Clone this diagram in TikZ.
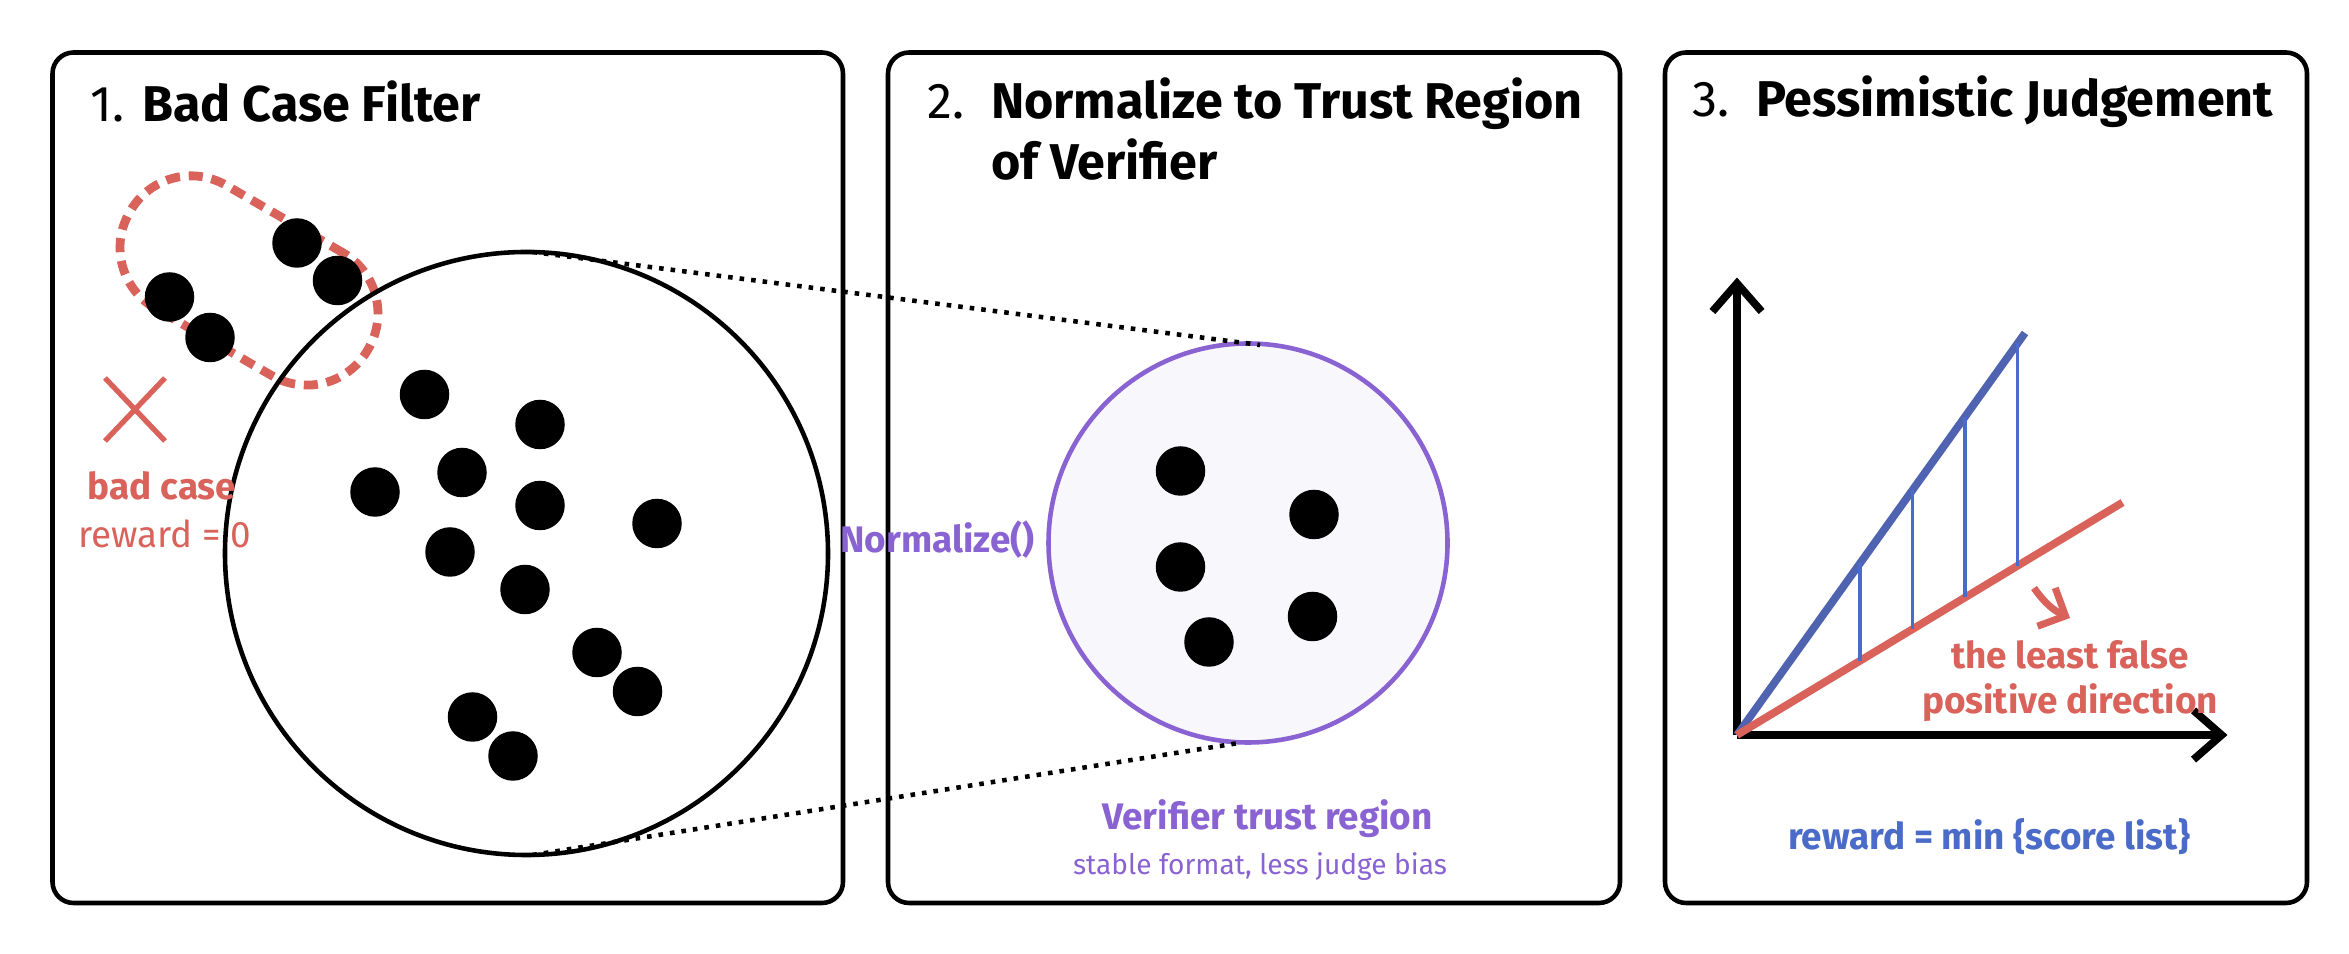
\documentclass[tikz,border=0pt]{standalone}
\usepackage{fontspec}
\setmainfont{Fira Sans}
\usetikzlibrary{arrows.meta}
\definecolor{cred}{HTML}{D9625B}
\definecolor{cpur}{HTML}{8A63D2}
\definecolor{cblue}{HTML}{4A6CC8}
\definecolor{cline}{HTML}{4F63B0}
\definecolor{clav}{HTML}{F8F7FC}
\begin{document}
\begin{tikzpicture}[x=0.015cm,y=-0.015cm,
  panel/.style={draw=black,line width=1.3pt,rounded corners=6pt},
  dot/.style={circle,fill=black,minimum size=0.495cm,inner sep=0pt},
  title/.style={anchor=west,font=\fontsize{14.3}{17.5}\selectfont},
  lab/.style={font=\fontsize{10.5}{13}\selectfont}]
\useasboundingbox (0,0) rectangle (1566,636);
\fill[white] (0,0) rectangle (1566,636);
\draw[panel] (35,35) rectangle (562,602);
\draw[panel] (592,35) rectangle (1080,602);
\draw[panel] (1110,35) rectangle (1538,602);
\node[title] (t1) at (52,68) {1. \textbf{Bad Case Filter}};
\node[title,align=left] (t2) at (610,86) {2.\ \ \textbf{Normalize to Trust Region}\\\phantom{2.\ \ }\textbf{of Verifier}};
\node[title] (t3) at (1120,68) {3.\ \ \textbf{Pessimistic Judgement}};
% panel 1
\node[draw=cred,line width=2.5pt,dash pattern=on 4pt off 2.5pt,rounded corners=0.7cm,minimum width=2.75cm,minimum height=1.42cm,rotate=-30] (blob) at (166,187) {};
\node[circle,draw,line width=1.3pt,minimum size=6.03cm,inner sep=0pt] (big) at (351,369) {};
\foreach \p/\n in {{198,162}/a1,{113,198}/a2,{140,225}/a3,{225,187}/a4,{283,263}/b1,{360,283}/b2,{308,315}/b3,{250,328}/b4,{360,337}/b5,{438,349}/b6,{300,368}/b7,{350,393}/b8,{398,435}/b9,{425,461}/b10,{315,478}/b11,{342,504}/b12}
  \node[dot] (\n) at (\p) {};
\coordinate (x1) at (70,252); \coordinate (x2) at (110,294);
\coordinate (x3) at (110,252); \coordinate (x4) at (70,294);
\draw[cred,line width=1.5pt] (x1)--(x2) (x3)--(x4);
\node[lab,cred] (bc) at (108,324) {\textbf{bad case}};
\node[lab,cred] (r0) at (110,356) {reward = 0};
% panel 2
\node[circle,draw=cpur,fill=clav,line width=1.3pt,minimum size=3.99cm,inner sep=0pt] (tr) at (832,362) {};
\coordinate (c1) at (355,168); \coordinate (c2) at (840,230);
\coordinate (c3) at (355,570); \coordinate (c4) at (828,495);
\draw[dotted,line width=1.3pt] (c1)--(c2) (c3)--(c4);
\foreach \p/\n in {{787,314}/d1,{876,343}/d2,{787,378}/d3,{875,411}/d4,{806,428}/d5}
  \node[dot] (\n) at (\p) {};
\node[lab,cpur] (nz) at (625,360) {\textbf{Normalize()}};
\node[lab,cpur] (vt) at (845,546) {\textbf{Verifier trust region}};
\node[cpur,font=\fontsize{8}{10}\selectfont] (sf) at (840,578) {stable format, less judge bias};
% panel 3
\coordinate (o) at (1158,490);
\coordinate (ya) at (1158,185); \coordinate (xa) at (1485,490);
\draw[line width=2.2pt,-{Straight Barb[length=8pt,width=14pt]}] (o)--(ya);
\draw[line width=2.2pt,-{Straight Barb[length=8pt,width=14pt]}] (o)--(xa);
\coordinate (bl) at (1350,222); \coordinate (rl) at (1415,335);
\draw[cline,line width=2.2pt] (o)--(bl);
\draw[cred,line width=2.2pt] (o)--(rl);
\foreach \x in {1240,1275,1310,1345}{
  \pgfmathsetmacro\yb{490-(\x-1158)/192*268}
  \pgfmathsetmacro\yr{490-(\x-1158)/257*155}
  \draw[cblue,line width=0.9pt] (\x,\yb)--(\x,\yr);}
\coordinate (ra1) at (1356,392); \coordinate (ra2) at (1380,412);
\draw[cred,line width=2pt,-{Straight Barb[length=6pt,width=12pt]}] (ra1) to[bend right=15] (ra2);
\node[lab,cred,align=center] (lf) at (1380,454) {\textbf{the least false}\\\textbf{positive direction}};
\node[lab,cblue] (rm) at (1326,558) {\textbf{reward = min \{score list\}}};
\end{tikzpicture}
\end{document}
